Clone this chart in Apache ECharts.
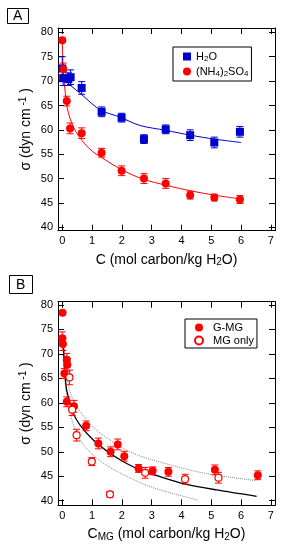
<!DOCTYPE html>
<html><head><meta charset="utf-8">
<script src="https://cdn.jsdelivr.net/npm/echarts@6/dist/echarts.min.js"></script>
<style>html,body{margin:0;padding:0;background:#fff}#c{width:304px;height:556px}</style>
</head><body><div id="c"></div>
<script>
// ---------- Panel A data ----------
const xTicks = [0, 1, 2, 3, 4, 5, 6, 7];
const yTicks = [40, 45, 50, 55, 60, 65, 70, 75, 80];

const aH2O_x   = [0.0, 0.03, 0.2, 0.28, 0.65, 1.32, 1.99, 2.74, 3.47, 4.29, 5.1, 5.96];
const aH2O_y   = [72.6, 70.6, 70.4, 70.8, 68.6, 63.7, 62.5, 58.1, 60.1, 58.9, 57.4, 59.6];
const aH2O_err = [2.4, 1.5, 1.3, 1.5, 1.3, 1.0, 0.9, 0.9, 0.9, 1.1, 1.1, 1.1];

const aAmm_x   = [0.0, 0.03, 0.15, 0.26, 0.65, 1.32, 1.99, 2.74, 3.47, 4.29, 5.1, 5.96];
const aAmm_y   = [78.4, 72.5, 65.9, 60.3, 59.3, 55.3, 51.6, 50.0, 49.0, 46.6, 46.1, 45.7];
const aAmm_err = [0.4, 1.2, 1.0, 1.1, 1.1, 0.9, 1.0, 1.0, 1.0, 0.8, 0.7, 0.8];

const aFitH2O_x = [0.05, 0.15, 0.3, 0.6, 1.27, 1.94, 2.6, 3.47, 4.3, 5.1, 6.0];
const aFitH2O_y = [70.5, 69.9, 69.0, 67.5, 64.1, 62.6, 60.9, 59.9, 58.9, 58.1, 57.4];

const aFitAmm_x = [0.0, 0.03, 0.12, 0.2, 0.37, 0.59, 0.93, 1.27, 2.0, 2.7, 3.5, 4.3, 5.1, 6.0];
const aFitAmm_y = [78.4, 72.5, 66.5, 63.6, 60.6, 58.4, 56.0, 54.5, 51.8, 49.9, 48.6, 47.5, 46.6, 45.8];

// ---------- Panel B data ----------
const bGMG_x   = [0.01, 0.0, 0.02, 0.15, 0.17, 0.07, 0.15, 0.39, 0.8, 1.21, 1.62, 1.86, 2.08, 2.56, 3.03, 3.56, 5.12, 6.56];
const bGMG_y   = [78.4, 73.2, 72.0, 68.8, 67.8, 66.0, 60.2, 59.3, 55.3, 51.7, 50.0, 51.5, 49.1, 46.6, 46.1, 45.9, 46.3, 45.2];
const bGMG_err = [0.3, 1.3, 1.3, 1.3, 1.3, 1.0, 1.0, 1.2, 1.0, 1.1, 1.0, 1.1, 1.0, 0.8, 0.8, 0.9, 1.0, 0.9];

const bMG_x   = [0.24, 0.33, 0.48, 0.99, 1.6, 2.78, 4.12, 5.24];
const bMG_y   = [65.2, 58.6, 53.4, 48.0, 41.3, 45.7, 44.4, 44.7];
const bMG_err = [1.5, 1.2, 1.2, 0.8, 0.6, 1.1, 1.0, 1.1];

const bFit_x = [0.02, 0.09, 0.15, 0.37, 0.59, 1.04, 1.6, 2.16, 2.72, 3.28, 4.06, 5.18, 6.52];
const bFit_y = [73.5, 66.0, 62.5, 57.9, 55.5, 52.4, 49.7, 47.6, 46.0, 44.9, 43.5, 42.2, 40.9];

const bUp_x = [0.04, 0.12, 0.26, 0.59, 1.04, 1.6, 2.16, 2.72, 3.28, 4.0, 4.62, 5.4, 6.5];
const bUp_y = [73.5, 67.5, 62.3, 58.3, 55.0, 52.4, 50.3, 48.9, 47.9, 46.7, 45.8, 45.0, 44.1];

const bLo_x = [0.01, 0.06, 0.15, 0.3, 0.59, 1.04, 1.6, 2.16, 2.72, 3.28, 4.0, 4.55];
const bLo_y = [73.5, 67.0, 61.5, 57.0, 52.5, 49.3, 46.8, 45.0, 43.4, 42.2, 41.0, 40.1];

// ---------- helpers ----------
const FONT = 'Liberation Sans, Arial, Helvetica, sans-serif';
const zip = (xs, ys) => xs.map((x, i) => [x, ys[i]]);
const zip3 = (xs, ys, es) => xs.map((x, i) => [x, ys[i], es[i]]);

function errSeries(data, color, axisIdx) {
  return {
    type: 'custom', xAxisIndex: axisIdx, yAxisIndex: axisIdx, z: 2, silent: true,
    data: data,
    renderItem: function (params, api) {
      const x = api.value(0), y = api.value(1), e = api.value(2);
      const top = api.coord([x, y + e]);
      const bot = api.coord([x, y - e]);
      const hw = 3.5;
      const st = { stroke: color, lineWidth: 1 };
      return { type: 'group', children: [
        { type: 'line', shape: { x1: top[0], y1: top[1], x2: bot[0], y2: bot[1] }, style: st },
        { type: 'line', shape: { x1: top[0] - hw, y1: top[1], x2: top[0] + hw, y2: top[1] }, style: st },
        { type: 'line', shape: { x1: bot[0] - hw, y1: bot[1], x2: bot[0] + hw, y2: bot[1] }, style: st }
      ]};
    }
  };
}

const richText = {
  a: { fontSize: 14, fontFamily: FONT, color: '#000' },
  sub: { fontSize: 10, fontFamily: FONT, color: '#000', verticalAlign: 'bottom', padding: [6, 0, 0, 0] },
  sup: { fontSize: 10, fontFamily: FONT, color: '#000', verticalAlign: 'top', padding: [0, 0, 6, 0] }
};

function axes(g, ymin, ymax, xname) {
  const line = { show: true, onZero: false, lineStyle: { color: '#000', width: 1 } };
  const tick = { show: true, inside: true, length: 6, lineStyle: { color: '#000', width: 1 } };
  const x = [
    { type: 'value', gridIndex: g, position: 'bottom', min: -0.144, max: 7.137,
      axisLine: line, axisTick: Object.assign({ customValues: xTicks }, tick),
      axisLabel: { customValues: xTicks, color: '#000', fontSize: 11, fontFamily: FONT, margin: 5 },
      splitLine: { show: false },
      name: xname, nameLocation: 'middle', nameGap: 21, nameMoveOverlap: false,
      nameTextStyle: { rich: richText, fontSize: 14, fontFamily: FONT, color: '#000' } },
    { type: 'value', gridIndex: g, position: 'top', min: -0.144, max: 7.137,
      axisLine: line, axisTick: Object.assign({ customValues: xTicks }, tick),
      axisLabel: { show: false }, splitLine: { show: false } }
  ];
  const y = [
    { type: 'value', gridIndex: g, position: 'left', min: ymin, max: ymax,
      axisLine: line, axisTick: Object.assign({ customValues: yTicks }, tick),
      axisLabel: { customValues: yTicks, color: '#000', fontSize: 11, fontFamily: FONT, margin: 5 },
      splitLine: { show: false },
      name: '{a|σ (dyn cm}{sup| -1}{a| )}', nameLocation: 'middle', nameGap: 24, nameRotate: 90,
      nameMoveOverlap: false,
      nameTextStyle: { rich: richText, fontSize: 14, fontFamily: FONT, color: '#000' } },
    { type: 'value', gridIndex: g, position: 'right', min: ymin, max: ymax,
      axisLine: line, axisTick: Object.assign({ customValues: yTicks }, tick),
      axisLabel: { show: false }, splitLine: { show: false } }
  ];
  return { x, y };
}

const A = axes(0, 39.3, 80.9, '{a|C (mol carbon/kg H}{sub|2}{a|O)}');
const B = axes(1, 39.06, 80.67, '{a|C}{sub|MG}{a| (mol carbon/kg H}{sub|2}{a|O)}');

const BLUE = '#0000cc', RED = '#ff0000';

const legendRich = {
  t: { fontSize: 11, fontFamily: FONT, color: '#000' },
  s: { fontSize: 8, fontFamily: FONT, color: '#000', verticalAlign: 'bottom', padding: [5, 0, 0, 0] }
};
const legendNames = {
  'H2O': '{t|H}{s|2}{t|O}',
  '(NH4)2SO4': '{t|(NH}{s|4}{t|)}{s|2}{t|SO}{s|4}',
  'G-MG': '{t|G-MG}',
  'MG only': '{t|MG only}'
};

const option = {
  animation: false,
  backgroundColor: '#fff',
  title: [
    { text: 'A', left: 7, top: 8, borderColor: '#000', borderWidth: 1, padding: [1, 6, 1, 6],
      textStyle: { fontSize: 14, fontWeight: 'normal', fontFamily: FONT, color: '#000' } },
    { text: 'B', left: 9, top: 275, borderColor: '#000', borderWidth: 1, padding: [3, 7, 2, 7],
      textStyle: { fontSize: 14, fontWeight: 'normal', fontFamily: FONT, color: '#000' } }
  ],
  legend: [
    { left: 173, top: 47, orient: 'vertical', data: ['H2O', '(NH4)2SO4'],
      borderColor: '#000', borderWidth: 1, padding: [4, 3, 3, 10], itemGap: 3,
      itemWidth: 8, itemHeight: 8, selectedMode: false,
      formatter: n => legendNames[n], textStyle: { rich: legendRich, fontSize: 11, fontFamily: FONT } },
    { left: 185, top: 319, orient: 'vertical', data: ['G-MG', 'MG only'],
      borderColor: '#000', borderWidth: 1, padding: [3, 3, 2, 9], itemGap: 2,
      itemWidth: 8, itemHeight: 8, selectedMode: false,
      formatter: n => legendNames[n], textStyle: { rich: legendRich, fontSize: 11, fontFamily: FONT, padding: [0, 0, 0, 5] } }
  ],
  grid: [
    { left: 58, top: 28, width: 217, height: 202.7 },
    { left: 58, top: 301.7, width: 217, height: 203.6 }
  ],
  xAxis: [...A.x, ...B.x],
  yAxis: [...A.y, ...B.y],
  series: [
    // Panel A fits
    { type: 'line', xAxisIndex: 0, yAxisIndex: 0, data: zip(aFitH2O_x, aFitH2O_y), showSymbol: false, smooth: 0.3,
      lineStyle: { color: BLUE, width: 1 }, z: 1, silent: true },
    { type: 'line', xAxisIndex: 0, yAxisIndex: 0, data: zip(aFitAmm_x, aFitAmm_y), showSymbol: false, smooth: 0.3,
      lineStyle: { color: RED, width: 1 }, z: 1, silent: true },
    errSeries(zip3(aH2O_x, aH2O_y, aH2O_err), BLUE, 0),
    errSeries(zip3(aAmm_x, aAmm_y, aAmm_err), RED, 0),
    { name: 'H2O', type: 'scatter', xAxisIndex: 0, yAxisIndex: 0, data: zip(aH2O_x, aH2O_y),
      symbol: 'rect', symbolSize: 8, itemStyle: { color: BLUE, opacity: 1 }, z: 3 },
    { name: '(NH4)2SO4', type: 'scatter', xAxisIndex: 0, yAxisIndex: 0, data: zip(aAmm_x, aAmm_y),
      symbol: 'circle', symbolSize: 8, itemStyle: { color: RED, opacity: 1 }, z: 3 },
    // Panel B fits
    { type: 'line', xAxisIndex: 2, yAxisIndex: 2, data: zip(bUp_x, bUp_y), showSymbol: false, smooth: 0.3,
      lineStyle: { color: '#888', width: 1, type: 'dotted' }, z: 1, silent: true },
    { type: 'line', xAxisIndex: 2, yAxisIndex: 2, data: zip(bLo_x, bLo_y), showSymbol: false, smooth: 0.3,
      lineStyle: { color: '#888', width: 1, type: 'dotted' }, z: 1, silent: true },
    { type: 'line', xAxisIndex: 2, yAxisIndex: 2, data: zip(bFit_x, bFit_y), showSymbol: false, smooth: 0.3,
      lineStyle: { color: '#000', width: 1.3 }, z: 1, silent: true },
    errSeries(zip3(bGMG_x, bGMG_y, bGMG_err), RED, 2),
    errSeries(zip3(bMG_x, bMG_y, bMG_err), RED, 2),
    { name: 'G-MG', type: 'scatter', xAxisIndex: 2, yAxisIndex: 2, data: zip(bGMG_x, bGMG_y),
      symbol: 'circle', symbolSize: 8, itemStyle: { color: RED, opacity: 1 }, z: 3 },
    { name: 'MG only', type: 'scatter', xAxisIndex: 2, yAxisIndex: 2, data: zip(bMG_x, bMG_y),
      symbol: 'circle', symbolSize: 7, itemStyle: { color: '#fff', borderColor: RED, borderWidth: 1.2, opacity: 1 }, z: 3 }
  ]
};

const chart = echarts.init(document.getElementById('c'), null, { renderer: 'canvas' });
chart.setOption(option);
</script>
</body></html>
